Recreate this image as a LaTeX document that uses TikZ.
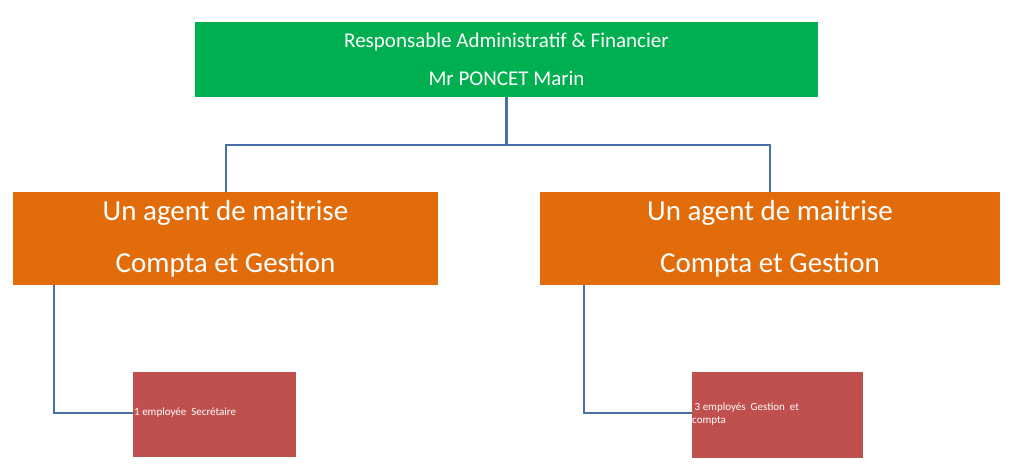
\documentclass[tikz,border=0pt]{standalone}
\usepackage{fontspec}
\setmainfont{Carlito}
\definecolor{gr}{HTML}{00B050}
\definecolor{orr}{HTML}{E36C0A}
\definecolor{rd}{HTML}{C0504D}
\definecolor{ln}{HTML}{4A6FA5}
\begin{document}
\begin{tikzpicture}[x=1pt,y=-1pt,
  box/.style={inner sep=0pt,text=white,align=center},
  link/.style={draw=ln,line width=2.5pt}]
\useasboundingbox (0,0) rectangle (1024,474);
\fill[gr] (195,22) rectangle (818,97);
\node[box,font=\fontsize{21}{38}\selectfont] (top) at (506.5,59.5) {Responsable Administratif \& Financier\\Mr PONCET Marin};
\coordinate (tb) at (506.5,97);
\fill[orr] (13,192) rectangle (438,285);
\node[box,font=\fontsize{29}{52}\selectfont] (l) at (225.5,238.5) {Un agent de maitrise\\Compta et Gestion};
\fill[orr] (540,192) rectangle (1000,285);
\node[box,font=\fontsize{29}{52}\selectfont] (r) at (770,238.5) {Un agent de maitrise\\Compta et Gestion};
\fill[rd] (133,372) rectangle (296,457);
\node[box,anchor=west,font=\fontsize{11}{13}\selectfont] (ls) at (134,413) {1 employée\ \ Secrétaire};
\fill[rd] (692,372) rectangle (863,458);
\node[box,anchor=west,align=left,font=\fontsize{11}{13}\selectfont] (rs) at (692,414) {\ 3 employés\ \ Gestion\ \ et\\compta};
\coordinate (lt) at (226,192);
\coordinate (rt) at (770,192);
\coordinate (lb) at (54,285);
\coordinate (rb) at (584,285);
\coordinate (le) at (133,413);
\coordinate (re) at (692,413);
\draw[link] (tb) -- (506.5,145) -| (lt);
\draw[link] (506.5,145) -| (rt);
\draw[link] (lb) |- (le);
\draw[link] (rb) |- (re);
\end{tikzpicture}
\end{document}
